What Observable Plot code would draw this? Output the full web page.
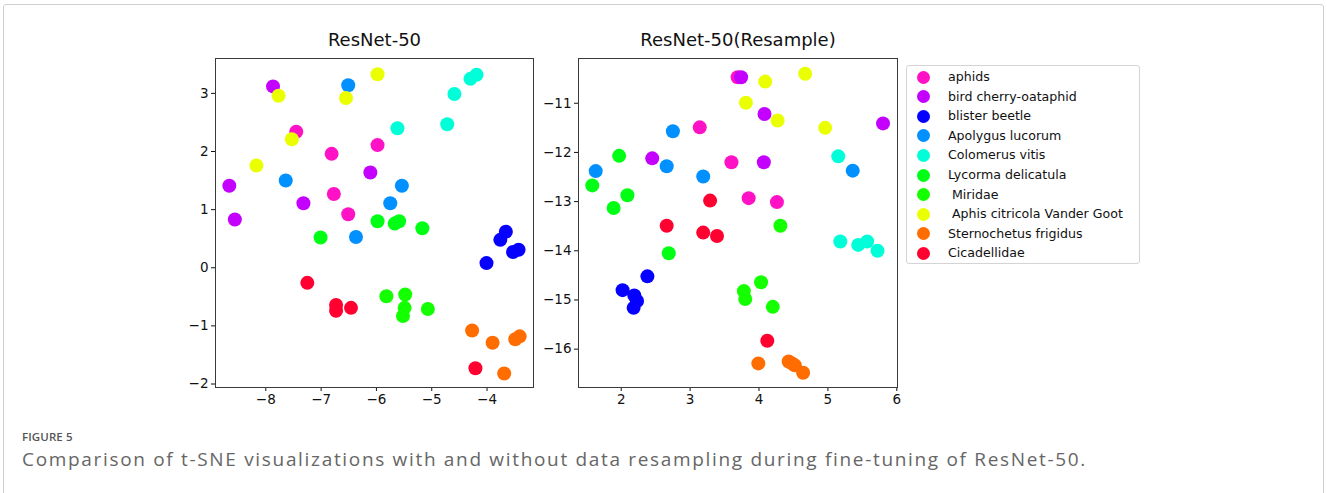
<!DOCTYPE html>
<html>
<head>
<meta charset="utf-8">
<script src="https://cdn.jsdelivr.net/npm/d3@7"></script>
<script src="https://cdn.jsdelivr.net/npm/@observablehq/plot@0.6"></script>
<style>
  html, body { margin: 0; padding: 0; background: #fff; }
  #page { position: relative; width: 1327px; height: 493px; overflow: hidden; background: #fff; }
  #border { position: absolute; left: 3px; top: 4px; width: 1321px; height: 520px; border: 1.5px solid #cfcfcf; border-radius: 3px; box-sizing: border-box; }
  .plotbox { position: absolute; }
  .plotbox svg { overflow: visible; }
  #legend { position: absolute; left: 906px; top: 65px; width: 234px; height: 199px; border: 1px solid #d4d4d4; border-radius: 3px; box-sizing: border-box; font-family: "DejaVu Sans", sans-serif; font-size: 12.6px; color: #111; }
  .lrow { position: absolute; left: 0; height: 16px; line-height: 16px; white-space: pre; }
  .lmark { position: absolute; left: 10px; top: 1.5px; width: 13px; height: 13px; border-radius: 50%; }
  .ltext { position: absolute; left: 41px; top: 0; }
  #figlabel { position: absolute; left: 22px; top: 429px; font-family: "Open Sans", sans-serif; font-size: 11.5px; font-weight: 600; color: #555; letter-spacing: 0.1px; }
  #caption { position: absolute; left: 22px; top: 446px; font-family: "Open Sans", sans-serif; font-weight: 400; font-size: 19px; color: #666; white-space: nowrap; }
</style>
</head>
<body>
<div id="page">
  <div id="border"></div>
  <div id="left" class="plotbox" style="left:150px; top:20px;"></div>
  <div id="right" class="plotbox" style="left:530px; top:20px;"></div>
  <div id="legend"></div>
  <div id="figlabel">FIGURE 5</div>
  <div id="caption">Comparison of t-SNE visualizations with and without data resampling during fine-tuning of ResNet-50.</div>
</div>
<script>
// ---- data ----
const classes = ["aphids", "bird cherry-oataphid", "blister beetle", "Apolygus lucorum", "Colomerus vitis",
  "Lycorma delicatula", " Miridae", " Aphis citricola Vander Goot", "Sternochetus frigidus", "Cicadellidae"];
const colors = ["#ff12c6", "#c400ff", "#0500ff", "#0090ff", "#00ffd8",
  "#00ff14", "#14ff00", "#eaff00", "#ff6c00", "#ff0030"];

const titles = ["ResNet-50", "ResNet-50(Resample)"];

// [class index, x, y] — plot without resampling
const leftPoints = [
  [0,-7.45,2.34],[0,-6.81,1.96],[0,-5.98,2.11],[0,-6.77,1.27],[0,-6.51,0.92],
  [1,-7.87,3.12],[1,-8.66,1.41],[1,-6.11,1.64],[1,-7.32,1.11],[1,-8.56,0.83],
  [2,-3.66,0.62],[2,-3.76,0.48],[2,-3.43,0.31],[2,-3.53,0.27],[2,-4.01,0.08],
  [3,-6.51,3.14],[3,-7.64,1.50],[3,-5.54,1.41],[3,-5.75,1.11],[3,-6.37,0.53],
  [4,-4.19,3.32],[4,-4.30,3.25],[4,-4.59,2.99],[4,-5.62,2.40],[4,-4.72,2.47],
  [5,-7.01,0.52],[5,-5.98,0.80],[5,-5.67,0.76],[5,-5.59,0.80],[5,-5.17,0.68],
  [6,-5.82,-0.49],[6,-5.48,-0.46],[6,-5.49,-0.69],[6,-5.52,-0.83],[6,-5.07,-0.71],
  [7,-7.77,2.96],[7,-5.98,3.33],[7,-6.55,2.92],[7,-7.53,2.21],[7,-8.17,1.76],
  [8,-4.27,-1.08],[8,-3.90,-1.29],[8,-3.41,-1.18],[8,-3.49,-1.23],[8,-3.69,-1.82],
  [9,-7.25,-0.26],[9,-6.73,-0.64],[9,-6.73,-0.74],[9,-6.46,-0.69],[9,-4.21,-1.73]
];

// [class index, x, y] — plot with resampling
const rightPoints = [
  [0,3.69,-10.47],[0,3.14,-11.49],[0,3.60,-12.20],[0,3.85,-12.93],[0,4.26,-13.01],
  [1,3.74,-10.47],[1,4.08,-11.22],[1,5.80,-11.41],[1,2.45,-12.12],[1,4.07,-12.20],
  [2,2.38,-14.52],[2,2.02,-14.80],[2,2.19,-14.91],[2,2.23,-15.02],[2,2.18,-15.16],
  [3,2.75,-11.57],[3,1.63,-12.38],[3,2.66,-12.28],[3,3.19,-12.49],[3,5.36,-12.37],
  [4,5.15,-12.08],[4,5.18,-13.81],[4,5.44,-13.88],[4,5.57,-13.81],[4,5.72,-14.00],
  [5,1.97,-12.07],[5,1.58,-12.67],[5,2.09,-12.87],[5,1.89,-13.13],[5,2.69,-14.05],
  [6,4.31,-13.49],[6,3.78,-14.82],[6,3.80,-14.98],[6,4.03,-14.64],[6,4.20,-15.14],
  [7,4.09,-10.56],[7,4.67,-10.40],[7,3.81,-10.99],[7,4.27,-11.35],[7,4.96,-11.50],
  [8,3.99,-16.29],[8,4.43,-16.25],[8,4.48,-16.29],[8,4.52,-16.33],[8,4.64,-16.48],
  [9,3.29,-12.98],[9,2.66,-13.49],[9,3.19,-13.63],[9,3.39,-13.70],[9,4.12,-15.83]
];

const leftXTicks = [-8, -7, -6, -5, -4];
const leftYTicks = [-2, -1, 0, 1, 2, 3];
const rightXTicks = [2, 3, 4, 5, 6];
const rightYTicks = [-16, -15, -14, -13, -12, -11];

const leftXDomain = [-8.91, -3.16];
const leftYDomain = [-2.06, 3.6];
const rightXDomain = [1.38, 6.01];
const rightYDomain = [-16.78, -10.09];

// ---- drawing ----
const intFmt = d => (d < 0 ? "\u2212" : "") + Math.abs(d);

function scatter(points, title, xDomain, yDomain, xTicks, yTicks, dims) {
  const data = points.map(([c, x, y]) => ({cls: classes[c], x, y}));
  return Plot.plot({
    width: dims.width, height: dims.height,
    marginLeft: dims.ml, marginRight: dims.mr, marginTop: dims.mt, marginBottom: dims.mb,
    style: {fontFamily: "DejaVu Sans, sans-serif", fontSize: "13.5px", color: "#111", background: "transparent", overflow: "visible"},
    x: {domain: xDomain, ticks: xTicks, tickFormat: intFmt, label: null, tickSize: 4, tickPadding: 3},
    y: {domain: yDomain, ticks: yTicks, tickFormat: intFmt, label: null, tickSize: 4, tickPadding: 3},
    color: {domain: classes, range: colors},
    marks: [
      Plot.dot(data, {x: "x", y: "y", fill: "cls", r: 7, stroke: "none"}),
      Plot.frame({stroke: "#3a3a3a", strokeWidth: 1}),
      Plot.text([title], {frameAnchor: "top", dy: -13, fontSize: 18, fill: "#111", lineAnchor: "bottom"})
    ]
  });
}

document.getElementById("left").appendChild(
  scatter(leftPoints, titles[0], leftXDomain, leftYDomain, leftXTicks, leftYTicks,
    {width: 400, height: 400, ml: 65, mr: 17, mt: 38, mb: 33}));
document.getElementById("right").appendChild(
  scatter(rightPoints, titles[1], rightXDomain, rightYDomain, rightXTicks, rightYTicks,
    {width: 380, height: 400, ml: 48, mr: 13, mt: 38, mb: 33}));

// legend
const legend = document.getElementById("legend");
classes.forEach((c, i) => {
  const row = document.createElement("div");
  row.className = "lrow";
  row.style.top = (3 + i * 19.6) + "px";
  row.style.width = "230px";
  const m = document.createElement("div");
  m.className = "lmark";
  m.style.background = colors[i];
  const t = document.createElement("div");
  t.className = "ltext";
  t.textContent = c;
  row.appendChild(m); row.appendChild(t);
  legend.appendChild(row);
});

// caption width fitting
const cap = document.getElementById("caption");
const targetW = 1065;
const w = cap.getBoundingClientRect().width;
const n = cap.textContent.length;
cap.style.letterSpacing = ((targetW - w) / n).toFixed(3) + "px";
</script>
</body>
</html>
